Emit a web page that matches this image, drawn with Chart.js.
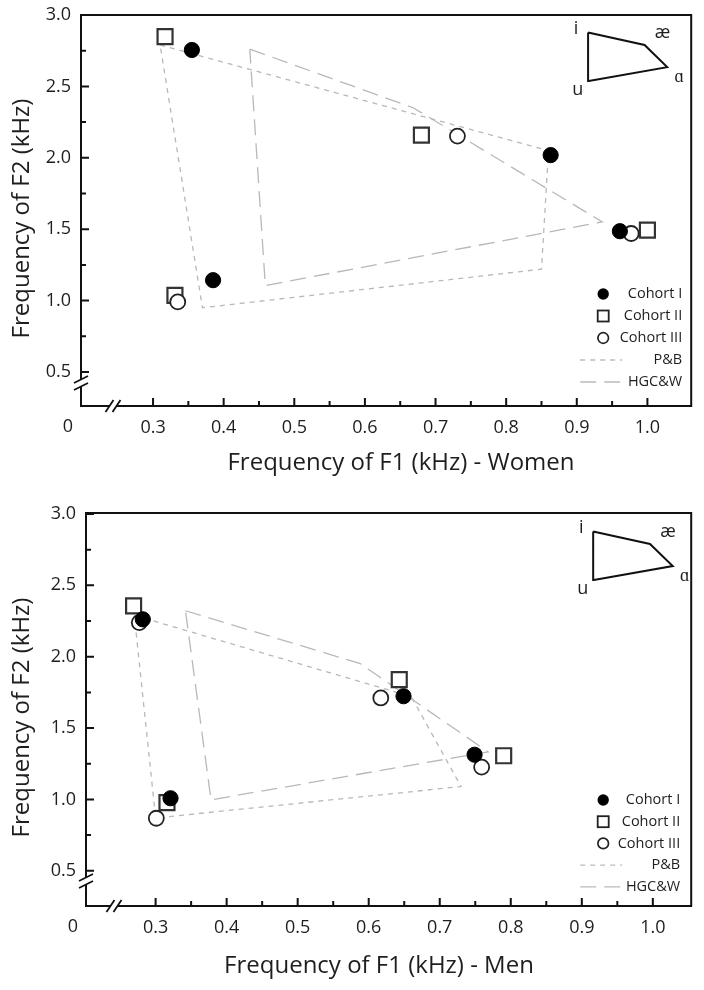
<!DOCTYPE html>
<html>
<head>
<meta charset="utf-8">
<script src="https://cdn.jsdelivr.net/npm/chart.js@4.4.0/dist/chart.umd.min.js"></script>
<style>
  html, body { margin: 0; padding: 0; background: #fff; }
  canvas { display: block; }
</style>
</head>
<body>
<canvas id="women" width="704" height="480"></canvas>
<canvas id="men" width="704" height="510"></canvas>
<script>
// vowel order in every array: i, æ, ɑ, u
const vowels = ['i', 'æ', 'ɑ', 'u'];

// Women (kHz)
const womenI_F1   = [0.355, 0.863, 0.961, 0.385];
const womenI_F2   = [2.755, 2.019, 1.486, 1.143];
const womenII_F1  = [0.317, 0.680, 1.000, 0.331];
const womenII_F2  = [2.848, 2.159, 1.493, 1.037];
const womenIII_F1 = [null, 0.731, 0.977, 0.335];
const womenIII_F2 = [null, 2.152, 1.470, 0.991];
const womenPB_F1  = [0.31, 0.86, 0.85, 0.37];
const womenPB_F2  = [2.79, 2.05, 1.22, 0.95];
const womenHGCW_F1 = [0.437, 0.669, 0.936, 0.459];
const womenHGCW_F2 = [2.761, 2.349, 1.551, 1.105];

// Men (kHz)
const menI_F1   = [0.282, 0.649, 0.749, 0.321];
const menI_F2   = [2.262, 1.723, 1.313, 1.008];
const menII_F1  = [0.269, 0.643, 0.790, 0.316];
const menII_F2  = [2.356, 1.840, 1.306, 0.978];
const menIII_F1 = [0.277, 0.617, 0.759, 0.301];
const menIII_F2 = [2.239, 1.711, 1.226, 0.868];
const menPB_F1  = [0.27, 0.66, 0.73, 0.30];
const menPB_F2  = [2.29, 1.72, 1.09, 0.87];
const menHGCW_F1 = [0.342, 0.588, 0.768, 0.378];
const menHGCW_F2 = [2.322, 1.952, 1.333, 0.997];

// little vowel-space sketch in the corner (kHz units)
const insetF1 = [0.916, 0.996, 1.028, 0.917];
const insetF2 = [2.878, 2.790, 2.635, 2.538];

// axis ticks
const xMajor = [0.3, 0.4, 0.5, 0.6, 0.7, 0.8, 0.9, 1.0];
const xMinor = [0.35, 0.45, 0.55, 0.65, 0.75, 0.85, 0.95];
const yMajor = [0.5, 1.0, 1.5, 2.0, 2.5, 3.0];
const yMinor = [0.75, 1.25, 1.75, 2.25, 2.75];

const legendLabels = ['Cohort I', 'Cohort II', 'Cohort III', 'P&B', 'HGC&W'];

Chart.defaults.font.family = "'Open Sans', sans-serif";
Chart.defaults.color = '#1e1e1e';

function pts(f1, f2, close) {
    const out = [];
    f1.forEach((x, i) => { if (x !== null) out.push({ x: x, y: f2[i] }); });
    if (close) out.push(out[0]);
    return out;
}

// frame, broken axes, ticks, inset labels, legend and titles
const decor = {
    id: 'decor',
    afterDatasetsDraw(chart, args, o) {
        const ctx = chart.ctx;
        const { left, right, top, bottom } = chart.chartArea;
        const sx = chart.scales.x, sy = chart.scales.y;
        const xb = left + o.xBreak, yb = bottom - o.yBreak;
        ctx.save();
        ctx.strokeStyle = '#111';
        ctx.lineWidth = 2;
        ctx.lineCap = 'butt';

        ctx.beginPath();
        ctx.moveTo(xb + 4, bottom);
        ctx.lineTo(right, bottom);
        ctx.lineTo(right, top);
        ctx.lineTo(left, top);
        ctx.lineTo(left, yb - 4);
        ctx.moveTo(left, yb + 4);
        ctx.lineTo(left, bottom);
        ctx.lineTo(xb - 4, bottom);
        ctx.stroke();

        // break marks
        ctx.lineWidth = 1.8;
        ctx.beginPath();
        [-3.5, 3.5].forEach(d => {
            ctx.moveTo(xb + d - 4, bottom + 6);
            ctx.lineTo(xb + d + 4, bottom - 6);
            ctx.moveTo(left - 7, yb + d + 3.5);
            ctx.lineTo(left + 7, yb + d - 3.5);
        });
        ctx.stroke();

        // inward ticks
        ctx.lineWidth = 2;
        ctx.beginPath();
        xMajor.forEach(v => { const p = sx.getPixelForValue(v); ctx.moveTo(p, bottom); ctx.lineTo(p, bottom - 8); });
        xMinor.forEach(v => { const p = sx.getPixelForValue(v); ctx.moveTo(p, bottom); ctx.lineTo(p, bottom - 5); });
        yMajor.forEach(v => { const p = sy.getPixelForValue(v); ctx.moveTo(left, p); ctx.lineTo(left + 8, p); });
        yMinor.forEach(v => { const p = sy.getPixelForValue(v); ctx.moveTo(left, p); ctx.lineTo(left + 5, p); });
        ctx.stroke();

        // origin label
        ctx.fillStyle = '#1e1e1e';
        ctx.font = "18px 'Open Sans'";
        ctx.textAlign = 'center';
        ctx.textBaseline = 'middle';
        ctx.fillText('0', left - 13, bottom + 21);

        // inset vowel labels
        ctx.font = "18px 'Open Sans'";
        const off = [[-12, -4], [18, -12], [12, 10], [-11, 9]];
        vowels.forEach((v, i) => {
            const px = sx.getPixelForValue(insetF1[i]), py = sy.getPixelForValue(insetF2[i]);
            ctx.fillText(v, px + off[i][0], py + off[i][1]);
        });

        // legend
        const mx = right - 88, tx = right - o.textRight;
        ctx.font = "14.5px 'Open Sans'";
        ctx.textAlign = 'right';
        legendLabels.forEach((lab, i) => {
            const y = bottom - o.legendTop + i * o.legendGap;
            ctx.fillStyle = '#1e1e1e';
            ctx.fillText(lab, tx, y);
            ctx.beginPath();
            if (i === 0) {
                ctx.fillStyle = '#000';
                ctx.arc(mx, y, 5.7, 0, Math.PI * 2);
                ctx.fill();
            } else if (i === 1) {
                ctx.strokeStyle = '#222'; ctx.lineWidth = 1.8;
                ctx.strokeRect(mx - 5.5, y - 5.5, 11, 11);
            } else if (i === 2) {
                ctx.strokeStyle = '#222'; ctx.lineWidth = 1.7;
                ctx.arc(mx, y, 5.3, 0, Math.PI * 2);
                ctx.stroke();
            } else {
                ctx.strokeStyle = '#bbb'; ctx.lineWidth = 1.3;
                ctx.setLineDash(i === 3 ? [5, 5] : [16, 8]);
                ctx.moveTo(mx - 23, y); ctx.lineTo(mx + 19, y);
                ctx.stroke();
                ctx.setLineDash([]);
            }
        });

        // axis titles
        ctx.fillStyle = '#1e1e1e';
        ctx.font = "24px 'Open Sans'";
        ctx.textAlign = 'center';
        ctx.fillText(o.xTitle, o.xTitleX, bottom + o.xTitleDy);
        ctx.translate(22, (top + bottom) / 2 + 8);
        ctx.rotate(-Math.PI / 2);
        ctx.fillText('Frequency of F2 (kHz)', 0, 0);
        ctx.restore();
    }
};

function makeChart(id, d, lay) {
    new Chart(document.getElementById(id), {
        type: 'scatter',
        data: {
            datasets: [
                { label: 'Cohort I', data: pts(d.I[0], d.I[1]), pointStyle: 'circle', pointRadius: 7.6,
                  backgroundColor: '#000', borderColor: '#000', borderWidth: 1 },
                { label: 'Cohort III', data: pts(d.III[0], d.III[1]), pointStyle: 'circle', pointRadius: 7.5,
                  backgroundColor: '#fff', borderColor: '#222', borderWidth: 1.8 },
                { label: 'Cohort II', data: pts(d.II[0], d.II[1]), pointStyle: 'rect', pointRadius: 10.6,
                  backgroundColor: '#fff', borderColor: '#333', borderWidth: 2.2 },
                { label: 'inset', data: pts(insetF1, insetF2, true), showLine: true, pointRadius: 0,
                  borderColor: '#111', borderWidth: 2 },
                { label: 'P&B', data: pts(d.PB[0], d.PB[1], true), showLine: true, pointRadius: 0,
                  borderColor: '#b8b8b8', borderWidth: 1.3, borderDash: [5, 5] },
                { label: 'HGC&W', data: pts(d.HG[0], d.HG[1], true), showLine: true, pointRadius: 0,
                  borderColor: '#b8b8b8', borderWidth: 1.3, borderDash: [16, 8] }
            ]
        },
        options: {
            responsive: false,
            animation: false,
            events: [],
            layout: { padding: { top: lay.top, right: lay.right, left: 0, bottom: 0 } },
            scales: {
                x: {
                    type: 'linear', min: lay.xMin, max: lay.xMax,
                    grid: { display: false, drawTicks: false },
                    border: { display: false },
                    afterBuildTicks: s => { s.ticks = xMajor.map(v => ({ value: v })); },
                    afterFit: s => { s.height = lay.xHeight; s.paddingLeft = 0; s.paddingRight = 0; },
                    ticks: { autoSkip: false, maxRotation: 0, padding: 11, color: '#1e1e1e',
                             font: { size: 18 }, callback: v => Number(v).toFixed(1) }
                },
                y: {
                    type: 'linear', min: lay.yMin, max: lay.yMax,
                    grid: { display: false, drawTicks: false },
                    border: { display: false },
                    afterBuildTicks: s => { s.ticks = yMajor.map(v => ({ value: v })); },
                    afterFit: s => { s.width = lay.yWidth; s.paddingTop = 0; s.paddingBottom = 0; },
                    ticks: { autoSkip: false, padding: 10, color: '#1e1e1e',
                             font: { size: 18 }, callback: v => Number(v).toFixed(1) }
                }
            },
            plugins: {
                legend: { display: false },
                tooltip: { enabled: false },
                decor: lay.decor
            }
        },
        plugins: [decor]
    });
}

makeChart('women', {
    I: [womenI_F1, womenI_F2], II: [womenII_F1, womenII_F2], III: [womenIII_F1, womenIII_F2],
    PB: [womenPB_F1, womenPB_F2], HG: [womenHGCW_F1, womenHGCW_F2]
}, {
    top: 15, right: 12, xHeight: 74, yWidth: 81,
    xMin: 0.198, xMax: 1.062, yMin: 0.262, yMax: 3.0,
    decor: { xBreak: 32, yBreak: 23, legendTop: 112, legendGap: 22, textRight: 9,
             xTitle: 'Frequency of F1 (kHz) - Women', xTitleX: 401, xTitleDy: 57 }
});

makeChart('men', {
    I: [menI_F1, menI_F2], II: [menII_F1, menII_F2], III: [menIII_F1, menIII_F2],
    PB: [menPB_F1, menPB_F2], HG: [menHGCW_F1, menHGCW_F2]
}, {
    top: 33, right: 9, xHeight: 84, yWidth: 86,
    xMin: 0.202, xMax: 1.054, yMin: 0.253, yMax: 3.007,
    decor: { xBreak: 28, yBreak: 25, legendTop: 106, legendGap: 21.7, textRight: 11,
             xTitle: 'Frequency of F1 (kHz) - Men', xTitleX: 379, xTitleDy: 60 }
});
</script>
</body>
</html>
